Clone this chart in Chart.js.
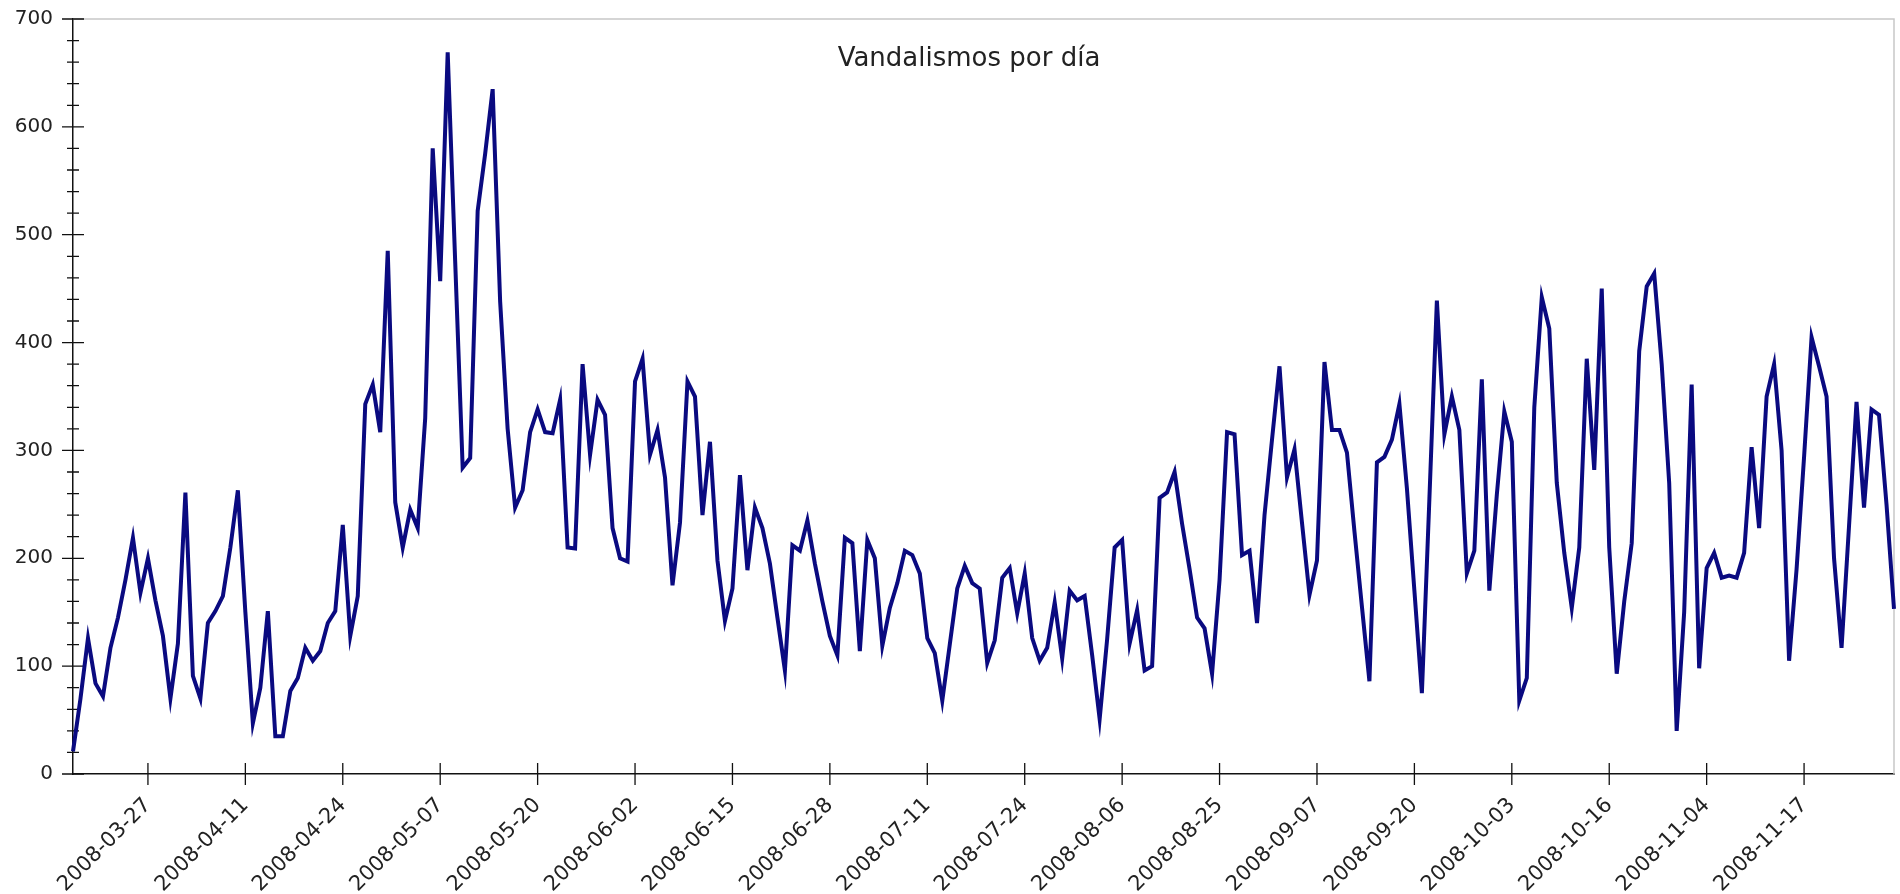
<!DOCTYPE html>
<html>
<head>
<meta charset="utf-8">
<script src="https://cdn.jsdelivr.net/npm/chart.js@4.4.0/dist/chart.umd.min.js"></script>
<style>
  html, body { margin: 0; padding: 0; background: #fff; }
  #wrap { position: relative; width: 1900px; height: 894px; }
  #title {
    position: absolute; left: 969px; top: 44px; transform: translateX(-50%);
    font-family: "DejaVu Sans", sans-serif; font-size: 26px; line-height: 1; color: #222;
    white-space: nowrap;
  }
</style>
</head>
<body>
<div id="wrap">
  <canvas id="chart" width="1900" height="894"></canvas>
  <div id="title">Vandalismos por día</div>
</div>
<script>
// vandalismos por día, un valor por día con datos (faltan algunos días)
const vandalismos = [
  21, 70, 126, 84, 72, 117, 145, 180, 219, 168,
  200, 161, 128, 70, 121, 261, 91, 70, 140, 151,
  165, 210, 263, 150, 47, 80, 151, 35, 35, 77,
  89, 117, 105, 114, 140, 151, 231, 128, 165, 343,
  361, 317, 485, 252, 210, 245, 228, 330, 580, 457,
  669, 475, 284, 293, 522, 575, 635, 438, 320, 247,
  263, 317, 338, 317, 316, 347, 210, 209, 380, 296,
  347, 333, 228, 200, 197, 364, 385, 296, 319, 275,
  175, 233, 364, 350, 240, 308, 198, 142, 172, 277,
  189, 247, 228, 195, 145, 96, 212, 207, 235, 195,
  160, 128, 110, 219, 214, 114, 217, 200, 119, 154,
  177, 207, 203, 186, 126, 112, 68, 120, 172, 193,
  177, 172, 103, 124, 182, 191, 149, 186, 126, 105,
  117, 159, 107, 170, 161, 165, 110, 51, 125, 210,
  217, 121, 152, 96, 100, 256, 261, 280, 232, 190,
  145, 135, 93, 180, 317, 315, 203, 207, 140, 240,
  310, 378, 275, 301, 233, 166, 198, 382, 319, 319,
  298, 225, 155, 86, 289, 294, 310, 343, 265, 170,
  75, 255, 439, 315, 350, 319, 186, 207, 366, 170,
  259, 336, 308, 68, 89, 340, 442, 413, 270, 205,
  154, 210, 385, 282, 450, 210, 93, 160, 214, 392,
  452, 464, 380, 270, 40, 150, 361, 98, 191, 205,
  182, 184, 182, 205, 303, 228, 350, 380, 300, 105,
  190, 294, 405, 378, 350, 200, 117, 230, 345, 247,
  338, 333, 250, 153
];

// etiquetas del eje x: una cada 13 puntos, empezando en el punto 10
const tickLabels = [
  '2008-03-27', '2008-04-11', '2008-04-24', '2008-05-07', '2008-05-20', '2008-06-02',
  '2008-06-15', '2008-06-28', '2008-07-11', '2008-07-24', '2008-08-06', '2008-08-25',
  '2008-09-07', '2008-09-20', '2008-10-03', '2008-10-16', '2008-11-04', '2008-11-17'
];
const firstTick = 10;
const tickStep = 13;

const dias = vandalismos.map((_, i) => i);
const family = '"DejaVu Sans", sans-serif';

const axisMarks = {
  id: 'axisMarks',
  beforeDatasetsDraw(chart) {
    const { ctx, chartArea: a, scales: { x, y } } = chart;
    ctx.save();
    // marco superior y derecho en gris
    ctx.strokeStyle = '#c8c8c8';
    ctx.lineWidth = 1.5;
    ctx.beginPath();
    ctx.moveTo(a.left, a.top); ctx.lineTo(a.right, a.top); ctx.lineTo(a.right, a.bottom);
    ctx.stroke();
    // marcas que cruzan los ejes
    ctx.strokeStyle = '#111';
    ctx.lineWidth = 1.3;
    ctx.beginPath();
    x.ticks.forEach(t => {
      const px = x.getPixelForValue(t.value);
      ctx.moveTo(px, a.bottom - 11); ctx.lineTo(px, a.bottom + 11);
    });
    y.ticks.forEach(t => {
      const py = y.getPixelForValue(t.value);
      const len = t.value % 100 === 0 ? 11 : 6;
      ctx.moveTo(a.left - len, py); ctx.lineTo(a.left + len, py);
    });
    ctx.stroke();
    ctx.restore();
  }
};

new Chart(document.getElementById('chart'), {
  type: 'line',
  data: {
    labels: dias,
    datasets: [{
      data: vandalismos,
      borderColor: '#0a0a80',
      borderWidth: 4,
      pointRadius: 0,
      tension: 0,
      fill: false
    }]
  },
  options: {
    responsive: false,
    animation: false,
    layout: { padding: { top: 19, right: 6, left: 0, bottom: 0 } },
    plugins: { legend: { display: false }, tooltip: { enabled: false }, title: { display: false } },
    scales: {
      x: {
        type: 'category',
        offset: false,
        afterBuildTicks: s => { s.ticks = s.ticks.filter(t => (t.value - firstTick) % tickStep === 0 && t.value >= firstTick); },
        afterFit: s => { s.height = 120; s.paddingLeft = 0; s.paddingRight = 0; },
        grid: { display: false, drawTicks: false },
        border: { display: true, color: '#111', width: 1.5 },
        ticks: {
          autoSkip: false, minRotation: 45, maxRotation: 45, padding: 19,
          color: '#222', font: { family, size: 21 },
          callback: v => tickLabels[(v - firstTick) / tickStep]
        }
      },
      y: {
        min: 0, max: 700,
        afterFit: s => { s.width = 73; s.paddingTop = 0; s.paddingBottom = 0; },
        grid: { display: false, drawTicks: false },
        border: { display: true, color: '#111', width: 1.5 },
        ticks: {
          stepSize: 20, autoSkip: false, maxTicksLimit: 100, padding: 20,
          color: '#222', font: { family, size: 20 },
          callback: v => (v % 100 === 0 ? v : '')
        }
      }
    }
  },
  plugins: [axisMarks]
});
</script>
</body>
</html>
